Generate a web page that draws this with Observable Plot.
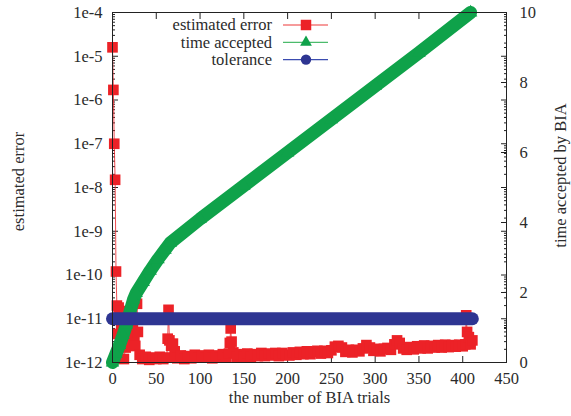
<!DOCTYPE html>
<html><head><meta charset="utf-8">
<script src="https://cdn.jsdelivr.net/npm/d3@7"></script>
<script src="https://cdn.jsdelivr.net/npm/@observablehq/plot@0.6"></script>
<style>body{margin:0;background:#fff}</style>
</head><body><div id="chart"></div>
<script>
// estimated error (red squares)
const errTrial = [0,1,2,3,4,5,6,7,9,10,11,13,15,17,19,21,23,25,26,28,29,31,34,38,42,46,50,54,58,62,63,64,65,67,69,71,74,78,82,86,90,94,98,102,106,110,114,118,122,126,130,133,134,135,136,138,142,146,150,154,158,162,166,170,174,178,182,186,190,194,198,202,206,210,214,218,222,226,230,234,238,242,246,250,254,258,262,266,270,274,278,282,286,290,294,298,302,306,310,314,318,322,325,328,332,336,340,344,348,352,356,360,364,368,372,376,380,384,388,392,396,400,403,404,405,407,409,411];
const errValue = [1.6e-5,1.7e-6,1.0e-7,1.5e-8,1.2e-10,2.0e-11,4.5e-12,1.8e-11,1.5e-11,6e-12,2.5e-12,1.2e-12,2.2e-12,3.5e-12,2.4e-12,4.5e-12,7e-12,3.8e-12,2.4e-12,2.2e-11,5e-12,1.5e-12,1.2e-12,1.35e-12,1.15e-12,1.3e-12,1.2e-12,1.35e-12,1.2e-12,1.3e-12,3.5e-12,1.6e-11,3.2e-12,2.4e-12,2.7e-12,1.8e-12,1.25e-12,1.45e-12,1.2e-12,1.4e-12,1.25e-12,1.5e-12,1.3e-12,1.45e-12,1.3e-12,1.5e-12,1.25e-12,1.45e-12,1.3e-12,1.55e-12,1.3e-12,1.6e-12,2.8e-12,6e-12,3e-12,1.7e-12,1.35e-12,1.55e-12,1.35e-12,1.6e-12,1.35e-12,1.55e-12,1.4e-12,1.65e-12,1.4e-12,1.6e-12,1.45e-12,1.65e-12,1.4e-12,1.65e-12,1.5e-12,1.45e-12,1.7e-12,1.5e-12,1.75e-12,1.55e-12,1.8e-12,1.55e-12,1.75e-12,1.85e-12,1.6e-12,1.85e-12,1.65e-12,1.9e-12,2.3e-12,2.4e-12,2.2e-12,1.75e-12,1.95e-12,1.7e-12,1.95e-12,1.8e-12,2.1e-12,2.5e-12,2.2e-12,1.85e-12,2.05e-12,1.8e-12,2.05e-12,2.15e-12,1.95e-12,2.6e-12,3.2e-12,2.8e-12,2.1e-12,1.95e-12,2.25e-12,2.0e-12,2.35e-12,2.1e-12,2.45e-12,2.1e-12,2.4e-12,2.2e-12,2.5e-12,2.2e-12,2.55e-12,2.25e-12,2.5e-12,2.3e-12,2.55e-12,2.35e-12,2.6e-12,1.2e-11,5e-12,3.8e-12,2.6e-12,3.2e-12];
// time accepted (green triangles, right axis)
const accTrial = [0,4,8,12,16,20,24,27,35,43,52,60,66,100,150,200,250,300,350,409];
const accValue = [0,0.25,0.5,0.78,1.08,1.45,1.8,1.98,2.3,2.62,2.95,3.22,3.42,4.1,5.05,6.0,6.95,7.9,8.85,10];
// tolerance (blue circles)
const tolTrial = [0,50,100,150,200,250,300,350,400,411];
const tolValue = [1e-11,1e-11,1e-11,1e-11,1e-11,1e-11,1e-11,1e-11,1e-11,1e-11];

const xTicks = [0,50,100,150,200,250,300,350,400,450];
const yTicks = [1e-12,1e-11,1e-10,1e-9,1e-8,1e-7,1e-6,1e-5,1e-4];
const y2Ticks = [0,2,4,6,8,10];
const y2Minor = [1,3,5,7,9];

const red = "#ec2227", green = "#0fa24a", blue = "#2e3592";
const ink = "#222";
const font = "'Liberation Serif','Times New Roman',serif";

// right-axis values mapped onto the left log scale (0..10 -> 1e-12..1e-4)
const toY = v => Math.pow(10, -12 + 0.8 * v);
const yMinor = [];
yTicks.slice(0, -1).forEach(t => { for (let k = 2; k <= 9; k++) yMinor.push(t * k); });

const err = errTrial.map((x, i) => ({x, y: errValue[i]}));
const acc = accTrial.map((x, i) => ({x, y: toY(accValue[i])}));
const tol = tolTrial.map((x, i) => ({x, y: tolValue[i]}));

const noText = {fill: "none", label: null, stroke: ink};
const plot = Plot.plot({
  width: 571, height: 416,
  marginLeft: 112, marginRight: 65, marginTop: 12, marginBottom: 54,
  style: {fontFamily: font, fontSize: "16.5px", color: "#2b2b2b", background: "white", overflow: "visible"},
  x: {domain: [0, 450]},
  y: {type: "log", domain: [1e-12, 1e-4]},
  marks: [
    // inward ticks
    Plot.axisX(xTicks, {anchor: "bottom", tickSize: 6, dy: -6, ...noText}),
    Plot.axisX(xTicks, {anchor: "top", tickSize: 6, dy: 6, ...noText}),
    Plot.axisY(yTicks, {anchor: "left", tickSize: 6, dx: 6, ...noText}),
    Plot.axisY(yMinor, {anchor: "left", tickSize: 3, dx: 3, ...noText}),
    Plot.axisY(yTicks, {anchor: "right", tickSize: 6, dx: -6, ...noText}),
    Plot.axisY(yMinor, {anchor: "right", tickSize: 3, dx: -3, ...noText}),
    Plot.axisY(y2Ticks.map(toY), {anchor: "right", tickSize: 6, dx: -6, ...noText}),
    Plot.axisY(y2Minor.map(toY), {anchor: "right", tickSize: 3, dx: -3, ...noText}),
    // tick labels
    Plot.axisX(xTicks, {anchor: "bottom", tickSize: 0, tickPadding: 10, label: null, tickFormat: d => String(d)}),
    Plot.axisY(yTicks, {anchor: "left", tickSize: 0, tickPadding: 10, label: null, tickFormat: d => "1e" + Math.round(Math.log10(d))}),
    Plot.text(y2Ticks, {y: d => toY(d), frameAnchor: "right", dx: 13, textAnchor: "start", text: d => String(d), fill: "#2b2b2b"}),
    // axis titles
    Plot.text(["estimated error"], {frameAnchor: "left", dx: -94, dy: -6, rotate: -90, textAnchor: "middle", text: d => d}),
    Plot.text(["time accepted by BIA"], {frameAnchor: "right", dx: 54, dy: -12, rotate: -90, textAnchor: "middle", text: d => d}),
    Plot.text(["the number of BIA trials"], {frameAnchor: "bottom", dy: 40, textAnchor: "middle", text: d => d}),
    // data
    Plot.line(err, {x: "x", y: "y", stroke: red, strokeWidth: 1, strokeOpacity: 0.8}),
    Plot.dot(err, {x: "x", y: "y", symbol: "square", r: 6, fill: red}),
    Plot.line(acc, {x: "x", y: "y", stroke: green, strokeWidth: 13}),
    Plot.dot(acc, {x: "x", y: "y", symbol: "triangle", r: 5, fill: green}),
    Plot.line(tol, {x: "x", y: "y", stroke: blue, strokeWidth: 13, strokeLinecap: "round"}),
    Plot.frame({stroke: ink})
  ]
});

// legend
const svg = d3.select(plot);
const items = [
  {label: "estimated error", color: red, line: "#f37a7a", sym: d3.symbolSquare, size: 110},
  {label: "time accepted", color: green, line: "#4cbb6c", sym: d3.symbolTriangle, size: 60},
  {label: "tolerance", color: blue, line: "#3b4cb0", sym: d3.symbolCircle, size: 85}
];
const lg = svg.append("g").attr("font-family", font).attr("font-size", "16.5px");
items.forEach((it, i) => {
  const y = 25 + 17.3 * i;
  lg.append("text").attr("x", 272).attr("y", y).attr("dy", "0.32em")
    .attr("text-anchor", "end").attr("fill", "#2b2b2b").text(it.label);
  lg.append("line").attr("x1", 283).attr("x2", 328).attr("y1", y).attr("y2", y)
    .attr("stroke", it.line).attr("stroke-width", 1.3);
  lg.append("path").attr("transform", `translate(306,${y})`)
    .attr("d", d3.symbol(it.sym, it.size)()).attr("fill", it.color);
});

document.getElementById("chart").appendChild(plot);
</script>
</body></html>
